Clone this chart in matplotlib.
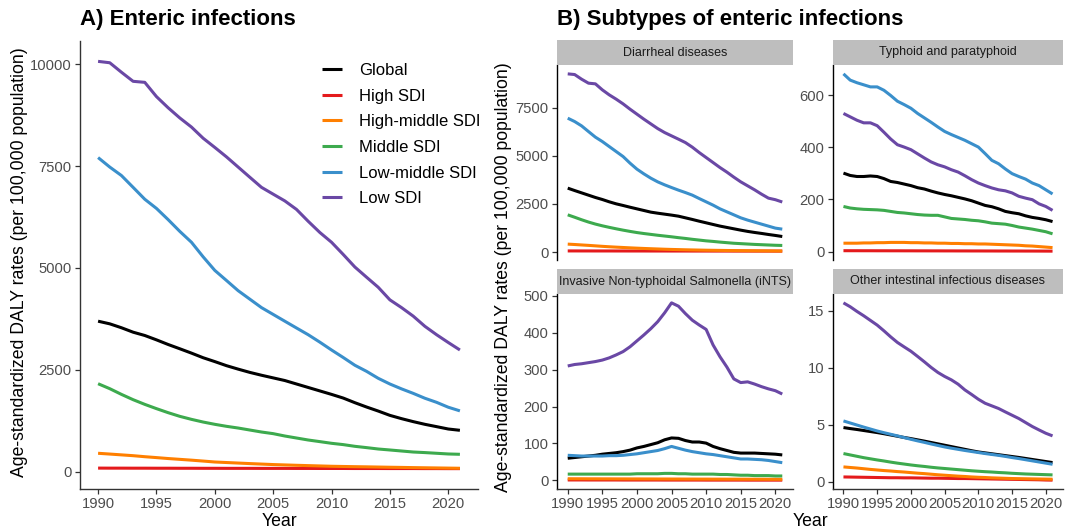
import matplotlib
matplotlib.use("Agg")
import matplotlib.pyplot as plt

plt.rcParams['font.family'] = ['Liberation Sans', 'DejaVu Sans']

years = list(range(1990, 2022))
groups = ['Global', 'High SDI', 'High-middle SDI', 'Middle SDI', 'Low-middle SDI', 'Low SDI']
colors = ['#000000', '#E41A1C', '#FF7F00', '#3DAA4E', '#3A8FCB', '#6A48A5']

# A) all enteric infections
global_a = [3692, 3627, 3531, 3422, 3341, 3234, 3120, 3015, 2908, 2795, 2700, 2600, 2515, 2435, 2365, 2300,
            2235, 2150, 2065, 1980, 1895, 1805, 1691, 1585, 1486, 1380, 1299, 1226, 1160, 1103, 1045, 1013]
high_a = [85, 84, 84, 83, 83, 82, 82, 81, 81, 80, 80, 79, 79, 79, 78, 78,
          78, 77, 77, 76, 76, 76, 75, 75, 75, 74, 74, 74, 73, 73, 72, 72]
hm_a = [449, 430, 410, 390, 365, 343, 320, 300, 280, 258, 235, 222, 209, 196, 184, 172,
        163, 154, 146, 138, 130, 125, 120, 116, 111, 106, 102, 97, 93, 89, 85, 81]
mid_a = [2157, 2035, 1895, 1765, 1650, 1545, 1446, 1356, 1282, 1216, 1160, 1111, 1069, 1020, 971, 931,
         873, 824, 775, 735, 694, 662, 620, 588, 554, 530, 505, 480, 466, 449, 432, 424]
lm_a = [7709, 7476, 7268, 6978, 6686, 6461, 6186, 5897, 5630, 5272, 4939, 4691, 4441, 4233, 4025, 3858,
        3691, 3525, 3360, 3177, 2985, 2801, 2610, 2461, 2290, 2150, 2030, 1920, 1800, 1700, 1580, 1490]
low_a = [10071, 10037, 9804, 9581, 9556, 9206, 8932, 8682, 8458, 8184, 7958, 7726, 7476, 7226, 6978, 6811,
         6645, 6436, 6145, 5870, 5630, 5331, 5022, 4772, 4525, 4216, 4025, 3816, 3566, 3360, 3169, 2985]

# B) diarrheal diseases
global_d = [3320, 3195, 3075, 2955, 2835, 2730, 2610, 2505, 2420, 2330, 2245, 2160, 2075, 2020, 1970, 1920,
            1865, 1780, 1695, 1605, 1520, 1435, 1350, 1280, 1210, 1140, 1075, 1020, 970, 915, 865, 810]
high_d = [62, 62, 61, 61, 60, 60, 60, 59, 59, 58, 58, 58, 57, 57, 57, 56,
          56, 56, 55, 55, 55, 54, 54, 54, 53, 53, 53, 52, 52, 52, 51, 51]
hm_d = [415, 395, 372, 350, 325, 300, 278, 258, 240, 222, 205, 190, 176, 163, 150, 139,
        130, 121, 113, 106, 99, 94, 89, 84, 80, 76, 72, 69, 66, 63, 60, 58]
mid_d = [1935, 1810, 1680, 1560, 1455, 1365, 1285, 1210, 1140, 1075, 1015, 965, 920, 875, 835, 795,
         750, 710, 665, 625, 585, 555, 520, 490, 460, 440, 420, 400, 385, 370, 355, 345]
lm_d = [6950, 6775, 6551, 6256, 5965, 5737, 5477, 5218, 4959, 4616, 4305, 4061, 3838, 3646, 3491, 3351,
        3216, 3091, 2957, 2780, 2609, 2438, 2246, 2090, 1935, 1779, 1660, 1556, 1452, 1349, 1245, 1193]
low_d = [9249, 9214, 8973, 8766, 8731, 8419, 8159, 7936, 7692, 7417, 7158, 6899, 6655, 6411, 6204, 6032,
         5861, 5685, 5446, 5166, 4907, 4648, 4388, 4150, 3890, 3646, 3439, 3232, 3008, 2801, 2720, 2600]

# typhoid and paratyphoid
global_t = [301, 292, 288, 288, 290, 288, 280, 269, 265, 259, 253, 245, 240, 232, 225, 219,
            214, 208, 202, 195, 186, 177, 172, 164, 154, 149, 145, 137, 131, 127, 122, 115]
high_t = [3.2, 3.1, 3.1, 3.0, 3.0, 2.9, 2.9, 2.8, 2.8, 2.7, 2.7, 2.6, 2.6, 2.5, 2.5, 2.4,
          2.4, 2.3, 2.3, 2.2, 2.2, 2.1, 2.1, 2.0, 2.0, 1.9, 1.9, 1.8, 1.8, 1.7, 1.6, 1.5]
hm_t = [32, 32, 32, 33, 33, 34, 34, 35, 35, 35, 34, 34, 33, 33, 32, 32,
        31, 31, 30, 30, 29, 29, 28, 27, 26, 25, 24, 22, 21, 19, 17, 15]
mid_t = [173, 167, 164, 162, 161, 160, 158, 154, 150, 148, 145, 142, 140, 139, 139, 133,
         127, 125, 123, 120, 118, 114, 109, 107, 105, 100, 94, 90, 86, 81, 76, 68]
lm_t = [682, 658, 648, 640, 632, 632, 619, 599, 577, 564, 550, 530, 513, 496, 478, 461,
        449, 438, 427, 414, 401, 376, 350, 337, 317, 299, 288, 278, 263, 253, 237, 221]
low_t = [530, 517, 504, 494, 494, 483, 458, 432, 410, 401, 391, 375, 359, 344, 333, 325,
         314, 305, 291, 276, 263, 253, 244, 237, 233, 225, 212, 205, 199, 183, 173, 158]

# invasive non-typhoidal salmonella
global_n = [60, 62, 64, 66, 68, 71, 73, 75, 78, 82, 88, 92, 97, 102, 110, 115,
            114, 108, 104, 104, 101, 92, 86, 81, 76, 74, 74, 74, 73, 72, 71, 69]
high_n = [1.2, 1.2, 1.2, 1.1, 1.1, 1.1, 1.1, 1.1, 1.0, 1.0, 1.0, 1.0, 1.0, 1.0, 0.9, 0.9,
          0.9, 0.9, 0.9, 0.9, 0.8, 0.8, 0.8, 0.8, 0.8, 0.8, 0.7, 0.7, 0.7, 0.7, 0.7, 0.7]
hm_n = [4.5, 4.4, 4.4, 4.3, 4.3, 4.2, 4.2, 4.1, 4.1, 4.0, 4.0, 3.9, 3.9, 3.8, 3.8, 3.7,
        3.7, 3.6, 3.6, 3.5, 3.5, 3.4, 3.4, 3.3, 3.3, 3.2, 3.2, 3.1, 3.1, 3.0, 3.0, 2.9]
mid_n = [17, 17, 17, 17, 17, 17, 17, 17, 17, 17, 18, 18, 18, 18, 19, 19,
         18, 18, 17, 17, 17, 17, 16, 16, 15, 14, 14, 13, 13, 13, 12, 12]
lm_n = [68, 67, 66, 66, 66, 66, 67, 67, 68, 70, 72, 75, 78, 81, 86, 92,
        87, 82, 78, 75, 72, 70, 67, 64, 61, 58, 58, 57, 56, 54, 51, 48]
low_n = [310, 314, 316, 319, 322, 326, 332, 340, 349, 362, 378, 394, 411, 430, 454, 481,
         472, 452, 434, 421, 409, 367, 335, 307, 275, 265, 267, 261, 254, 248, 243, 234]

# other intestinal infectious diseases
global_o = [4.77, 4.68, 4.60, 4.51, 4.42, 4.33, 4.23, 4.12, 4.01, 3.90, 3.80, 3.69, 3.58, 3.46, 3.34, 3.22,
            3.10, 2.98, 2.86, 2.74, 2.63, 2.55, 2.47, 2.39, 2.31, 2.23, 2.15, 2.06, 1.97, 1.88, 1.79, 1.70]
high_o = [0.44, 0.43, 0.42, 0.41, 0.40, 0.39, 0.38, 0.37, 0.37, 0.36, 0.36, 0.35, 0.34, 0.33, 0.33, 0.32,
          0.31, 0.30, 0.30, 0.29, 0.28, 0.27, 0.26, 0.25, 0.24, 0.23, 0.22, 0.21, 0.20, 0.19, 0.17, 0.16]
hm_o = [1.32, 1.27, 1.22, 1.16, 1.10, 1.05, 1.00, 0.96, 0.91, 0.87, 0.82, 0.77, 0.73, 0.68, 0.63, 0.59,
        0.55, 0.51, 0.48, 0.44, 0.41, 0.39, 0.36, 0.34, 0.32, 0.30, 0.29, 0.28, 0.27, 0.26, 0.25, 0.24]
mid_o = [2.49, 2.37, 2.25, 2.13, 2.03, 1.93, 1.84, 1.74, 1.65, 1.57, 1.49, 1.42, 1.36, 1.29, 1.23, 1.18,
         1.13, 1.08, 1.03, 0.98, 0.94, 0.90, 0.87, 0.83, 0.80, 0.76, 0.73, 0.70, 0.68, 0.66, 0.64, 0.62]
lm_o = [5.35, 5.17, 4.99, 4.81, 4.64, 4.47, 4.32, 4.18, 4.04, 3.89, 3.74, 3.60, 3.47, 3.33, 3.20, 3.07,
        2.96, 2.86, 2.76, 2.67, 2.58, 2.49, 2.41, 2.33, 2.24, 2.14, 2.05, 1.95, 1.85, 1.75, 1.65, 1.55]
low_o = [15.70, 15.36, 14.95, 14.57, 14.16, 13.75, 13.25, 12.72, 12.23, 11.84, 11.46, 11.00, 10.53, 10.04, 9.60, 9.25,
         8.95, 8.57, 8.07, 7.67, 7.25, 6.90, 6.67, 6.44, 6.14, 5.85, 5.56, 5.21, 4.86, 4.56, 4.27, 4.04]

facets = [
    ('Diarrheal diseases', [global_d, high_d, hm_d, mid_d, lm_d, low_d], [0, 2500, 5000, 7500]),
    ('Typhoid and paratyphoid', [global_t, high_t, hm_t, mid_t, lm_t, low_t], [0, 200, 400, 600]),
    ('Invasive Non-typhoidal Salmonella (iNTS)', [global_n, high_n, hm_n, mid_n, lm_n, low_n],
     [0, 100, 200, 300, 400, 500]),
    ('Other intestinal infectious diseases', [global_o, high_o, hm_o, mid_o, lm_o, low_o], [0, 5, 10, 15]),
]

W, H = 1065, 532
fig = plt.figure(figsize=(W / 100, H / 100), dpi=100)


def px_axes(left, top, right, bottom, **kw):
    return fig.add_axes([left / W, 1 - bottom / H, (right - left) / W, (bottom - top) / H], **kw)


def style(ax, show_x=True):
    for s in ['top', 'right']:
        ax.spines[s].set_visible(False)
    ax.spines['left'].set_color('#333333')
    ax.spines['left'].set_linewidth(1.0)
    ax.spines['bottom'].set_color('#333333')
    ax.spines['bottom'].set_linewidth(1.0)
    ax.tick_params(colors='#333333', labelcolor='#4D4D4D', labelsize=10.6, length=3.5, width=0.9, pad=2.5)
    if not show_x:
        ax.spines['bottom'].set_visible(False)
        ax.tick_params(axis='x', bottom=False, labelbottom=False)


def draw(ax, series):
    for vals, g, c in zip(series, groups, colors):
        ax.plot(years, vals, color=c, lw=2.2, label=g, solid_capstyle='butt')
    ax.set_xticks([1990, 1995, 2000, 2005, 2010, 2015, 2020])


# panel A
axA = px_axes(80, 41, 478, 489)
draw(axA, [global_a, high_a, hm_a, mid_a, lm_a, low_a])
axA.set_yticks([0, 2500, 5000, 7500, 10000])
style(axA)
axA.legend(loc='upper left', bbox_to_anchor=(322 / W, 1 - 63 / H), bbox_transform=fig.transFigure,
           frameon=False, fontsize=12, handlelength=1.2, handletextpad=1.0, labelspacing=0.64,
           borderpad=0, borderaxespad=0)
fig.text(80 / W, 1 - 20 / H, 'A) Enteric infections', fontsize=16, fontweight='bold', va='center')
fig.text(20 / W, 1 - 262 / H, 'Age-standardized DALY rates (per 100,000 population)',
         rotation=90, fontsize=12.7, ha='center', va='center')
fig.text(279 / W, 1 - 522 / H, 'Year', fontsize=12.7, ha='center', va='center')

# panel B (right column kept just inside the canvas so the last tick label fits)
boxes = [(557, 65, 793, 260), (833, 65, 1063, 260), (557, 294, 793, 489), (833, 294, 1063, 489)]
for i, ((name, series, yt), (l, t, r, b)) in enumerate(zip(facets, boxes)):
    ax = px_axes(l, t, r, b)
    draw(ax, series)
    ax.set_yticks(yt)
    ax.set_xlim(1988.45, 2022.55)
    style(ax, show_x=i >= 2)
    ax.spines['left'].set_color('#000000')
    strip = px_axes(l, t - 25, r, t)
    strip.set_facecolor('#BEBEBE')
    strip.set_xticks([])
    strip.set_yticks([])
    for s in strip.spines.values():
        s.set_visible(False)
    strip.text(0.5, 0.5, name, transform=strip.transAxes, ha='center', va='center',
               fontsize=9, color='#1A1A1A')

fig.text(557 / W, 1 - 20 / H, 'B) Subtypes of enteric infections', fontsize=16, fontweight='bold', va='center')
fig.text(503 / W, 1 - 277 / H, 'Age-standardized DALY rates (per 100,000 population)',
         rotation=90, fontsize=12.7, ha='center', va='center')
fig.text(810 / W, 1 - 522 / H, 'Year', fontsize=12.7, ha='center', va='center')

fig.savefig('out.png', dpi=100)
